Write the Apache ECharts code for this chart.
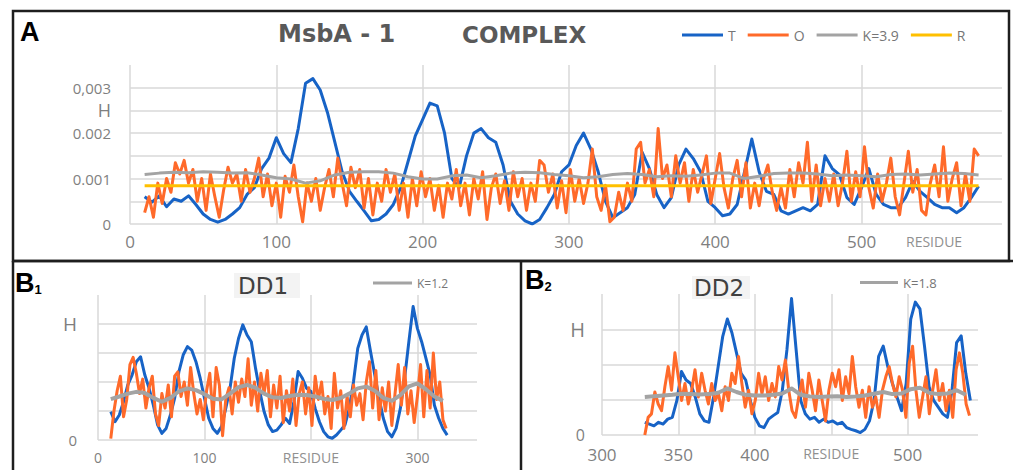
<!DOCTYPE html>
<html>
<head>
<meta charset="utf-8">
<script src="https://cdn.jsdelivr.net/npm/echarts@6/dist/echarts.min.js"></script>
<style>
html, body { margin: 0; padding: 0; background: #fff; }
#main { width: 1013px; height: 470px; }
</style>
</head>
<body>
<div id="main"></div>
<script>
// ---- panel A : MsbA-1 complex (H in units of 0.001) ----
var aTStart = 10, aTStep = 5;
var aT = [0.6,0.48,0.62,0.38,0.55,0.5,0.62,0.43,0.22,0.1, 0.04,0.1,0.22,0.36,0.65,0.8,1.22,1.45,1.9,1.55,
  1.35,2.1,3.1,3.2,2.95,2.45,1.8,1.15,0.72,0.5, 0.29,0.07,0.1,0.22,0.43,0.8,1.37,1.94,2.3,2.66,
  2.6,2.0,1.0,0.8,1.5,2.0,2.1,1.9,1.8,1.3, 0.5,0.22,0.07,0.0,0.1,0.36,0.65,1.15,1.3,1.73,
  2.0,1.65,1.15,0.5,0.14,0.25,0.36,0.65,1.58,1.22, 0.65,0.36,0.58,1.3,1.65,1.44,1.15,0.5,0.36,0.18,
  0.22,0.43,1.15,1.87,1.15,0.72,0.65,0.29,0.22,0.29, 0.36,0.29,0.43,1.5,1.22,1.08,0.58,0.43,0.8,1.22,
  0.65,0.43,0.36,0.36,0.58,0.94,0.72,0.58,0.43,0.36, 0.36,0.25,0.36,0.58,0.83];
var aOStart = 10, aOStep = 3;
var aO = [0.25,0.6,0.15,0.9,0.45,1.0,0.7,1.35,1.1,1.4, 0.9,1.2,0.5,1.0,0.3,1.1,0.6,0.15,0.75,1.25,
  0.9,1.1,0.5,1.2,0.7,1.0,1.45,0.6,1.1,0.4, 0.9,0.15,1.05,0.7,1.3,0.6,0.05,0.9,0.5,1.0,
  0.3,0.8,1.2,0.6,1.45,0.9,0.4,1.25,0.8,1.2, 0.35,1.0,0.2,0.9,0.5,1.2,0.7,1.1,0.3,0.9,
  0.15,1.0,0.4,1.15,
  0.6,1.0,0.3,0.85,0.15,0.9,0.55,1.2,0.4,0.9, 0.2,1.0,0.55,1.15,0.1,0.8,1.1,0.45,0.95,0.3,
  1.15,0.6,1.0,0.3,0.9,0.5,1.4,1.3,0.7,1.1, 0.35,0.95,0.25,1.2,0.5,1.0,0.45,0.9,1.65,0.6,
  0.3,0.85,0.05,0.15,0.7,0.3,0.9,0.5,1.65,1.8, 0.9,1.2,0.6,2.1,1.0,1.3,0.6,1.5,0.9,1.35,
  0.5,1.2,0.7,1.1,1.5,0.45,1.0,
  1.55,0.8,0.35,1.0,1.4,0.6,1.35,0.35,0.9,0.4, 1.0,1.3,0.7,0.3,0.8,0.35,1.2,0.6,1.35,0.9,
  1.8,0.5,1.3,0.4,1.0,0.5,1.1,0.4,0.9,1.6, 0.5,1.15,0.6,1.7,0.8,0.35,1.1,0.5,0.9,1.45,
  0.6,0.2,0.9,1.6,0.7,1.2,0.3,0.2,0.9,1.3, 0.6,1.7,0.5,1.0,1.35,0.4,1.1,0.5,1.65,1.5];
var aKStart = 10, aKStep = 10;
var aK = [1.09,1.12,1.14,1.13,1.15,1.14,1.12,1.13,1.08,1.02, 0.99,0.9,0.95,1.08,1.14,1.15,1.15,1.12,1.04,0.99,
  0.99,1.06,1.08,1.02,1.06,1.12,1.14,1.13,1.09,1.06, 1.02,1.04,1.09,1.11,1.09,1.04,1.06,1.05,1.08,1.12,
  1.12,1.0,1.05,1.11,1.12,1.12,1.1,1.06,1.08,1.06, 1.04,1.09,1.1,1.08,1.1,1.12,1.11,1.08];
var aR = 0.84;
var aRFrom = 10, aRTo = 580;
var aYLabels = ['0', '', '0.001', '', '0.002', 'H', '0,003'];
var aXLabels = ['0', '100', '200', '300', '400', '500'];

// ---- panel B1 : DD1 ----
var b1TStart = 12, b1TStep = 4;
var b1T = [0.98,0.63,0.86,1.32,1.9,2.24,2.7,2.87,2.24,1.78, 1.2,0.52,0.23,0.4,0.86,1.44,2.36,2.93,3.22,3.1,
  2.7,2.13,1.44,0.75,0.4,0.23,0.46,1.09,1.78,2.82, 3.5,3.97,3.62,3.39,2.47,1.67,0.98,0.52,0.29,0.34,
  0.52,0.75,0.57,1.32,2.36,2.13,1.78,1.67,1.09,0.63, 0.29,0.11,0.06,0.17,0.34,0.52,1.09,2.01,3.16,3.62,
  3.9,3.05,2.24,1.44,0.75,0.29,0.11,0.4,1.09,2.13, 3.39,4.6,3.85,3.39,2.82,2.24,1.2,0.75,0.4,0.17];
var b1OStart = 12, b1OStep = 3;
var b1O = [0.05,1.0,1.7,2.2,0.8,1.4,2.6,2.85,2.3,1.6, 2.1,1.1,1.8,2.2,0.9,0.5,1.6,1.1,1.9,0.8,
  2.2,2.35,1.5,2.0,1.2,2.5,1.6,0.9,1.4,0.7, 1.7,2.3,0.8,2.5,1.9,0.15,1.4,1.8,0.9,2.0,
  1.3,2.1,1.5,2.8,1.2,2.0,1.0,2.3,1.6,2.4, 0.8,1.9,1.1,2.2,0.6,1.7,1.0,2.1,0.5,1.6,
  2.0,0.9,1.8,0.5,2.2,1.4,2.0,0.9,1.5,0.4, 2.3,1.1,1.7,0.4,1.5,0.8,1.9,1.2,1.6,0.7,
  2.0,2.7,1.1,2.4,0.7,1.8,1.0,2.0,0.5,1.6, 2.6,1.2,2.5,0.9,1.7,0.6,1.5,2.6,0.8,2.4,
  1.1,3.0,1.4,2.0,0.7,0.4];
var b1KStart = 12, b1KStep = 8;
var b1K = [1.41,1.5,1.6,1.66,1.62,1.45,1.32,1.45,1.68,1.78, 1.72,1.58,1.42,1.4,1.6,1.82,1.9,1.8,1.6,1.47,
  1.45,1.52,1.56,1.55,1.5,1.42,1.38,1.45,1.6,1.78, 1.84,1.7,1.45,1.35,1.55,1.85,1.95,1.75,1.5,1.35];
var b1YLabels = ['0', '', '', '', 'H', ''];
var b1XLabels = ['0', '100', 'RESIDUE', '300'];

// ---- panel B2 : DD2 ----
var b2TStart = 328, b2TStep = 3;
var b2T = [0.36,0.31,0.26,0.36,0.31,0.45,0.5,0.98,1.8,1.56, 1.46,1.08,0.6,0.4,0.36,1.08,1.94,2.8,3.29,2.9,
  2.33,1.75,1.56,0.98,0.5,0.26,0.21,0.45,0.55,0.64, 1.27,2.42,3.87,2.42,0.98,0.6,0.45,0.5,0.36,0.45,
  0.36,0.4,0.31,0.36,0.21,0.16,0.12,0.07,0.16,0.4, 0.98,2.23,2.52,1.94,1.46,1.08,0.69,1.46,3.29,3.77,
  3.58,2.52,1.37,0.98,0.79,0.6,0.5,1.27,2.62,2.81, 1.75,0.98];
var b2OStart = 328, b2OStep = 2.19;
var b2O = [0.0,0.5,0.6,1.22,0.88,0.69,1.37,1.94,1.27,2.33, 1.65,0.98,1.46,0.88,1.27,1.85,1.08,1.75,1.27,0.88,
  1.46,0.98,1.17,0.69,1.37,0.98,1.75,1.46,2.23,1.46, 0.79,1.27,0.6,0.98,1.75,1.17,1.65,0.98,1.46,1.08,
  1.94,1.56,2.13,1.27,0.69,0.5,1.08,1.56,0.79,1.75, 1.27,0.69,1.56,0.98,0.4,1.27,1.75,1.37,1.85,0.98,
  1.65,1.17,2.23,1.37,0.79,1.27,0.5,1.37,0.79,1.08, 0.5,1.27,1.65,1.94,1.46,1.08,1.65,1.27,0.5,2.04,
  2.52,1.27,0.5,1.08,1.65,0.6,1.27,1.85,0.98,1.46, 0.69,1.27,0.5,1.85,2.33,1.75,0.88,0.55];
var b2KStart = 328, b2KStep = 6;
var b2K = [1.08,1.1,1.12,1.14,1.17,1.16,1.15,1.16,1.2,1.32, 1.22,1.14,1.12,1.12,1.14,1.18,1.32,1.14,1.09,1.08,
  1.09,1.1,1.08,1.09,1.12,1.17,1.22,1.16,1.18,1.3, 1.34,1.2,1.16,1.18,1.27,1.14];
var b2YLabels = ['0', '', '', 'H', ''];
var b2XLabels = ['300', '350', '400', 'RESIDUE', '500'];

var BLUE = '#1763c6', ORANGE = '#ff6a2a', GRAY = '#a3a3a3', YELLOW = '#ffc000';
var FONT = "'Open Sans', sans-serif";
var TFONT = "'DejaVu Sans', sans-serif";
var GRID_LINE = { color: '#d9d9d9', width: 1.5 };

function pts(start, step, vals) {
    return vals.map(function (v, i) { return [start + i * step, v]; });
}

function line(name, data, color, idx, width, z) {
    return {
        name: name, type: 'line', xAxisIndex: idx, yAxisIndex: idx,
        data: data, symbol: 'none', showSymbol: false, z: z,
        lineStyle: { color: color, width: width, join: 'round' },
        itemStyle: { color: color },
        emphasis: { disabled: true }
    };
}

function xAxis(idx, min, max, step, labels, margin, size) {
    return {
        type: 'value', gridIndex: idx, min: min, max: max, interval: step,
        axisLine: { show: false }, axisTick: { show: false },
        splitLine: { show: true, showMinLine: true, showMaxLine: false, lineStyle: GRID_LINE },
        axisLabel: {
            margin: margin, color: '#7f7f7f', fontFamily: FONT, fontSize: size,
            showMaxLabel: false,
            formatter: function (v) {
                var t = labels[Math.round((v - min) / step)];
                if (t === undefined) return '';
                return t === 'RESIDUE' ? '{r|RESIDUE}' : t;
            },
            rich: { r: { fontSize: 14, color: '#909090', fontFamily: FONT } }
        }
    };
}

function yAxis(idx, max, step, labels, margin, size, hSize) {
    return {
        type: 'value', gridIndex: idx, min: 0, max: max, interval: step,
        axisLine: { show: false }, axisTick: { show: false },
        splitLine: { show: true, showMinLine: true, showMaxLine: false, lineStyle: GRID_LINE },
        axisLabel: {
            margin: margin, color: '#7f7f7f', fontFamily: FONT, fontSize: size,
            showMaxLabel: false,
            formatter: function (v) {
                var t = labels[Math.round(v / step)] || '';
                return t === 'H' ? '{h|H}' : t;
            },
            rich: { h: { fontSize: hSize, color: '#7f7f7f', fontFamily: FONT } }
        }
    };
}

var myChart = echarts.init(document.getElementById('main'), null, { renderer: 'svg' });

var legendText = { color: '#767676', fontFamily: FONT };
var letterFont = "'Liberation Sans', sans-serif";

myChart.setOption({
    animation: false,
    backgroundColor: '#fff',
    grid: [
        { left: 130, right: 11, top: 65, bottom: 246, containLabel: false, outerBoundsMode: 'none' },
        { left: 98, right: 536, top: 295, bottom: 30, containLabel: false, outerBoundsMode: 'none' },
        { left: 602, right: 35, top: 294, bottom: 35, containLabel: false, outerBoundsMode: 'none' }
    ],
    xAxis: [
        xAxis(0, 0, 596, 100, aXLabels, 9, 17),
        xAxis(1, 0, 356, 100, b1XLabels, 10, 14),
        xAxis(2, 300, 546, 50, b2XLabels, 11, 17)
    ],
    yAxis: [
        yAxis(0, 3.5, 0.5, aYLabels, 19, 15, 18),
        yAxis(1, 5, 1, b1YLabels, 21, 15, 19),
        yAxis(2, 4, 1, b2YLabels, 17, 16, 20)
    ],
    legend: [
        { data: ['T', 'O', 'K=3.9', 'R'], left: 682, top: 28, padding: 0, icon: 'rect',
          itemWidth: 41, itemHeight: 3, itemGap: 12, selectedMode: false,
          textStyle: Object.assign({ fontSize: 14 }, legendText) },
        { data: ['K=1.2'], left: 373, top: 277, padding: 0, icon: 'rect',
          itemWidth: 39, itemHeight: 3, selectedMode: false,
          textStyle: Object.assign({ fontSize: 12 }, legendText) },
        { data: ['K=1.8'], left: 860, top: 276, padding: 0, icon: 'rect',
          itemWidth: 38, itemHeight: 3, selectedMode: false,
          textStyle: Object.assign({ fontSize: 13 }, legendText) }
    ],
    series: [
        line('T', pts(aTStart, aTStep, aT), BLUE, 0, 3, 2),
        line('O', pts(aOStart, aOStep, aO), ORANGE, 0, 3, 3),
        line('K=3.9', pts(aKStart, aKStep, aK), GRAY, 0, 3, 4),
        line('R', [[aRFrom, aR], [aRTo, aR]], YELLOW, 0, 3, 5),
        line('T', pts(b1TStart, b1TStep, b1T), BLUE, 1, 3, 2),
        line('O', pts(b1OStart, b1OStep, b1O), ORANGE, 1, 3, 3),
        line('K=1.2', pts(b1KStart, b1KStep, b1K), GRAY, 1, 4, 4),
        line('T', pts(b2TStart, b2TStep, b2T), BLUE, 2, 3, 2),
        line('O', pts(b2OStart, b2OStep, b2O), ORANGE, 2, 3, 3),
        line('K=1.8', pts(b2KStart, b2KStep, b2K), GRAY, 2, 4, 4)
    ],
    graphic: [
        // panel frames
        { type: 'rect', shape: { x: 13, y: 11, width: 996, height: 250 },
          style: { fill: 'none', stroke: '#1e1e1e', lineWidth: 2.5 }, z: 100 },
        { type: 'line', shape: { x1: 13, y1: 261, x2: 1013, y2: 261 },
          style: { stroke: '#1e1e1e', lineWidth: 2.5 }, z: 100 },
        { type: 'line', shape: { x1: 13, y1: 261, x2: 13, y2: 470 },
          style: { stroke: '#1e1e1e', lineWidth: 2.5 }, z: 100 },
        { type: 'line', shape: { x1: 521, y1: 261, x2: 521, y2: 470 },
          style: { stroke: '#1e1e1e', lineWidth: 2.5 }, z: 100 },
        // panel letters
        { type: 'text', left: 20, top: 18, z: 100,
          style: { text: 'A', font: "bold 27px " + letterFont, fill: '#000' } },
        { type: 'text', left: 15, top: 269, z: 100,
          style: { text: '{b|B}{s|1}', fill: '#000',
                   rich: { b: { fontSize: 27, fontWeight: 'bold', fontFamily: letterFont },
                           s: { fontSize: 13, fontWeight: 'bold', fontFamily: letterFont, padding: [14, 0, 0, 0] } } } },
        { type: 'text', left: 525, top: 266, z: 100,
          style: { text: '{b|B}{s|2}', fill: '#000',
                   rich: { b: { fontSize: 27, fontWeight: 'bold', fontFamily: letterFont },
                           s: { fontSize: 13, fontWeight: 'bold', fontFamily: letterFont, padding: [14, 0, 0, 0] } } } },
        // titles
        { type: 'text', left: 278, top: 22, z: 100,
          style: { text: 'MsbA - 1', font: "bold 24px " + TFONT, fill: '#595959' } },
        { type: 'text', left: 462, top: 23, z: 100,
          style: { text: 'COMPLEX', font: "bold 23px " + TFONT, fill: '#595959' } },
        { type: 'text', left: 234, top: 273, z: 100,
          style: { text: 'DD1', font: "23px " + TFONT, fill: '#404040',
                   backgroundColor: '#f3f3f3', padding: [1, 12, 1, 4] } },
        { type: 'text', left: 692, top: 276, z: 100,
          style: { text: 'DD2', font: "23px " + TFONT, fill: '#404040',
                   backgroundColor: '#f3f3f3', padding: [0, 6, 0, 2] } },
        { type: 'text', left: 906, top: 234, z: 100,
          style: { text: 'RESIDUE', font: "14px " + FONT, fill: '#909090' } }
    ]
});
</script>
</body>
</html>
